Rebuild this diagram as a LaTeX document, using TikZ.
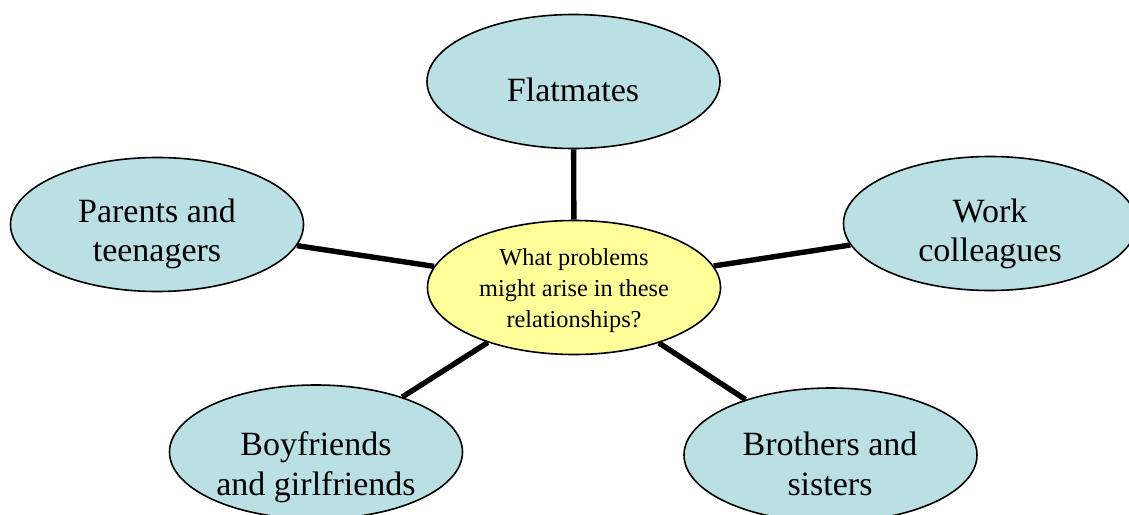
\documentclass[tikz,border=0pt]{standalone}
\usepackage{fontspec}
\setmainfont{Liberation Serif}
\usetikzlibrary{shapes.geometric}
\definecolor{bubblue}{HTML}{BBE0E3}
\definecolor{bubyellow}{HTML}{FFFF99}
\tikzset{
  bub/.style={ellipse, draw=black, line width=1.6pt, fill=bubblue, inner sep=0pt,
    minimum width=293pt, minimum height=134pt},
  hub/.style={bub, fill=bubyellow},
  txt/.style={align=center, inner sep=0pt, font=\fontsize{34}{39.5}\selectfont},
  hubtxt/.style={align=center, inner sep=0pt, font=\fontsize{24.3}{31.2}\selectfont},
  spoke/.style={line width=5.4pt}
}
\begin{document}
\begin{tikzpicture}[x=1pt,y=-1pt]
\useasboundingbox (0,0) rectangle (1129,514);
% bubbles
\node[hub] (hub) at (574,287.5) {};
\node[bub] (flat) at (573.5,81.5) {};
\node[bub] (par) at (157,224.5) {};
\node[bub] (work) at (990,223.5) {};
\node[bub] (boy) at (316,452) {};
\node[bub] (bro) at (830.5,455) {};
% spokes
\draw[spoke] (flat) -- (hub);
\draw[spoke] (par) -- (hub);
\draw[spoke] (work) -- (hub);
\draw[spoke] (boy) -- (hub);
\draw[spoke] (bro) -- (hub);
% texts
\node[hubtxt] (hubt) at (574,290.7) {What problems\\might arise in these\\relationships?};
\node[txt] (flatt) at (573,89.4) {Flatmates};
\node[txt] (part) at (157,234) {Parents and\\teenagers};
\node[txt] (workt) at (990,234) {Work\\colleagues};
\node[txt] (boyt) at (316,467) {Boyfriends\\and girlfriends};
\node[txt] (brot) at (830,464) {Brothers and\\sisters};
\end{tikzpicture}
\end{document}
